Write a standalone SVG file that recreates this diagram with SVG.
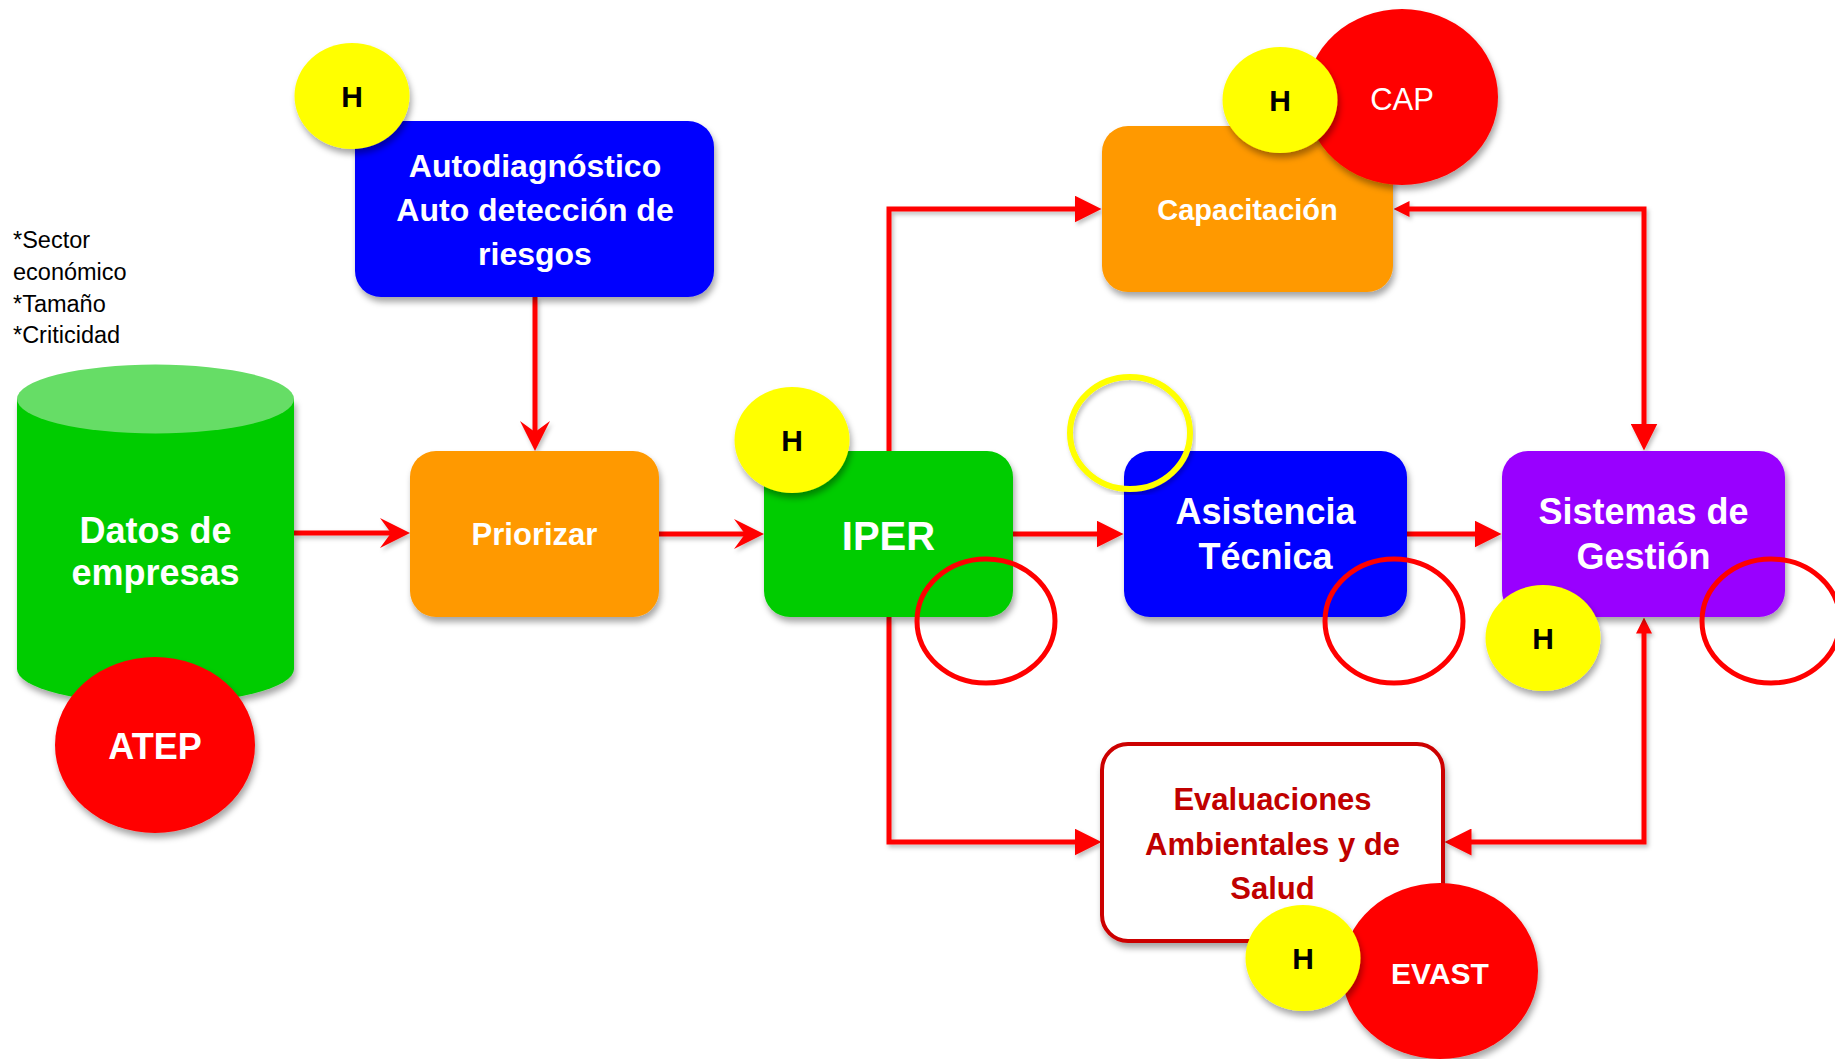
<svg xmlns="http://www.w3.org/2000/svg" width="1835" height="1059" viewBox="0 0 1835 1059">
<style>
.t{font-family:"Liberation Sans",Arial,sans-serif;text-anchor:middle}
.w{fill:#fff;font-weight:bold}
.h{fill:#000;font-weight:bold;font-size:30px}
.side{font-family:"Liberation Sans",Arial,sans-serif;font-size:23.5px;fill:#000}
.con{fill:none;stroke:#ff0000;stroke-width:5;stroke-linejoin:miter}
.ring{fill:none;stroke:#ff0000;stroke-width:5}
.yel{fill:#ffff00;filter:url(#sh)}
.box{filter:url(#sh)}
</style>
<defs>
<filter id="sh" x="-20%" y="-20%" width="140%" height="150%">
<feDropShadow dx="2" dy="5" stdDeviation="3" flood-color="#000" flood-opacity="0.35"/>
</filter>
<filter id="lsh" x="-5%" y="-5%" width="110%" height="110%">
<feDropShadow dx="2" dy="3" stdDeviation="2" flood-color="#000" flood-opacity="0.25"/>
</filter>
<marker id="stealth" markerUnits="userSpaceOnUse" viewBox="0 0 30 30" markerWidth="30" markerHeight="30" refX="11" refY="15" orient="auto-start-reverse">
<path d="M0,0 L30,15 L0,30 L11,15 Z" fill="#ff0000"/>
</marker>
<marker id="tri" markerUnits="userSpaceOnUse" viewBox="0 0 27 27" markerWidth="27" markerHeight="27" refX="0.5" refY="13.5" orient="auto-start-reverse">
<path d="M0,0 L27,13.5 L0,27 Z" fill="#ff0000"/>
</marker>
<marker id="small" markerUnits="userSpaceOnUse" viewBox="0 0 16 16" markerWidth="16" markerHeight="16" refX="0.5" refY="8" orient="auto-start-reverse">
<path d="M0,0 L16,8 L0,16 Z" fill="#ff0000"/>
</marker>
</defs>
<rect width="1835" height="1059" fill="#fff"/>

<g id="side-notes">
<text class="side" x="13" y="248">*Sector</text>
<text class="side" x="13" y="280">económico</text>
<text class="side" x="13" y="312">*Tamaño</text>
<text class="side" x="13" y="343">*Criticidad</text>
</g>

<g id="connectors" filter="url(#lsh)">
<path class="con" d="M294,533 H391" marker-end="url(#stealth)"/>
<path class="con" d="M659,534 H745" marker-end="url(#stealth)"/>
<path class="con" d="M535,297 V432" marker-end="url(#stealth)"/>
<path class="con" d="M889,451 V209 H1075" marker-end="url(#tri)"/>
<path class="con" d="M1013,534 H1097" marker-end="url(#tri)"/>
<path class="con" d="M1407,534 H1475" marker-end="url(#tri)"/>
<path class="con" d="M889,617 V842 H1075" marker-end="url(#tri)"/>
<path class="con" d="M1409,209 H1644 V424" marker-start="url(#small)" marker-end="url(#tri)"/>
<path class="con" d="M1471,842 H1644 V633" marker-start="url(#tri)" marker-end="url(#small)"/>
</g>

<g id="datos-empresas">
<path class="box" d="M17,399 V669 A138.5,34.5 0 0 0 294,669 V399 Z" fill="#00cc00"/>
<ellipse cx="155.5" cy="399" rx="138.5" ry="34.5" fill="#66dd66"/>
<text class="t w" x="155.5" y="543" font-size="36">Datos de</text>
<text class="t w" x="155.5" y="585" font-size="36">empresas</text>
</g>

<g id="atep">
<ellipse class="box" cx="155" cy="745" rx="100" ry="88" fill="#ff0000"/>
<text class="t w" x="155" y="759" font-size="36">ATEP</text>
</g>

<g id="autodiagnostico">
<rect class="box" x="355" y="121" width="359" height="176" rx="26" fill="#0000ff"/>
<text class="t w" x="535" y="177" font-size="32">Autodiagnóstico</text>
<text class="t w" x="535" y="221" font-size="32">Auto detección de</text>
<text class="t w" x="535" y="265" font-size="32">riesgos</text>
</g>
<g id="h-autodiagnostico">
<ellipse class="yel" cx="352" cy="96" rx="57.5" ry="53"/>
<text class="t h" x="352" y="107">H</text>
</g>

<g id="priorizar">
<rect class="box" x="410" y="451" width="249" height="166" rx="26" fill="#ff9900"/>
<text class="t w" x="534.5" y="545" font-size="31">Priorizar</text>
</g>

<g id="iper">
<rect class="box" x="764" y="451" width="249" height="166" rx="26" fill="#00cc00"/>
<text class="t w" x="888.5" y="550" font-size="40">IPER</text>
</g>
<g id="h-iper">
<ellipse class="yel" cx="792" cy="440" rx="57.5" ry="53"/>
<text class="t h" x="792" y="451">H</text>
</g>
<ellipse id="ring-iper" class="ring" cx="986" cy="621" rx="69" ry="62"/>

<g id="capacitacion">
<rect class="box" x="1102" y="126" width="291" height="166" rx="26" fill="#ff9900"/>
<text class="t w" x="1247.5" y="220" font-size="29">Capacitación</text>
</g>
<g id="cap">
<ellipse class="box" cx="1402" cy="97" rx="96" ry="88" fill="#ff0000"/>
<text class="t" x="1402" y="110" font-size="31" fill="#fff">CAP</text>
</g>
<g id="h-capacitacion">
<ellipse class="yel" cx="1280" cy="100" rx="57.5" ry="53"/>
<text class="t h" x="1280" y="111">H</text>
</g>

<g id="asistencia-tecnica">
<rect class="box" x="1124" y="451" width="283" height="166" rx="26" fill="#0000ff"/>
<text class="t w" x="1265.5" y="524" font-size="36">Asistencia</text>
<text class="t w" x="1265.5" y="569" font-size="36">Técnica</text>
</g>
<ellipse id="ring-yellow" cx="1130" cy="433" rx="60" ry="56" fill="none" stroke="#ffff00" stroke-width="6" filter="url(#lsh)"/>
<ellipse id="ring-asistencia" class="ring" cx="1394" cy="621" rx="69" ry="62"/>

<g id="sistemas-gestion">
<rect class="box" x="1502" y="451" width="283" height="166" rx="26" fill="#9900ff"/>
<text class="t w" x="1643.5" y="524" font-size="36">Sistemas de</text>
<text class="t w" x="1643.5" y="569" font-size="36">Gestión</text>
</g>
<g id="h-sistemas">
<ellipse class="yel" cx="1543" cy="638" rx="57.5" ry="53"/>
<text class="t h" x="1543" y="649">H</text>
</g>
<ellipse id="ring-sistemas" class="ring" cx="1771" cy="621" rx="69" ry="62"/>

<g id="evaluaciones">
<rect class="box" x="1102" y="744" width="341" height="197" rx="26" fill="#fff" stroke="#cc0000" stroke-width="4"/>
<text class="t" x="1272.5" y="810" font-size="31" font-weight="bold" fill="#c00000">Evaluaciones</text>
<text class="t" x="1272.5" y="855" font-size="31" font-weight="bold" fill="#c00000">Ambientales y de</text>
<text class="t" x="1272.5" y="899" font-size="31" font-weight="bold" fill="#c00000">Salud</text>
</g>
<g id="evast">
<ellipse class="box" cx="1440" cy="971" rx="98" ry="88" fill="#ff0000"/>
<text class="t w" x="1440" y="984" font-size="30">EVAST</text>
</g>
<g id="h-evaluaciones">
<ellipse class="yel" cx="1303" cy="958" rx="57.5" ry="53"/>
<text class="t h" x="1303" y="969">H</text>
</g>
</svg>
